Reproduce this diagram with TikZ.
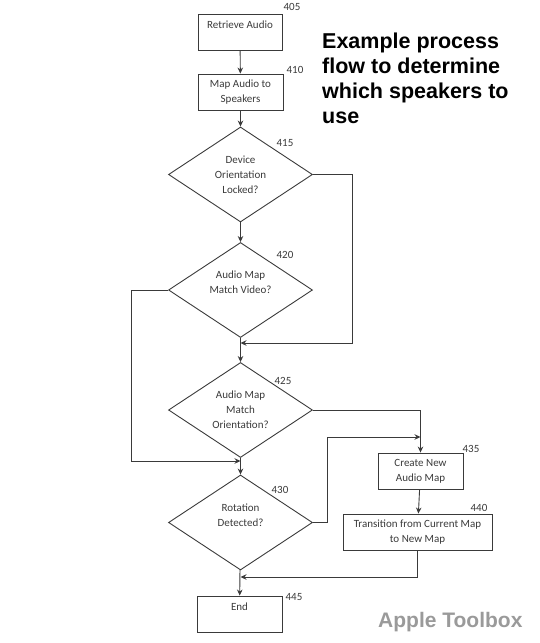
\documentclass[tikz,border=0pt]{standalone}
\usepackage{fontspec}
\setmainfont{Carlito}
\newfontfamily\headfont{Liberation Sans}
\usetikzlibrary{arrows.meta,shapes.geometric}

\definecolor{inkgray}{HTML}{3A3A3A}
\definecolor{markgray}{HTML}{9A9A9A}

\tikzset{
  stepbox/.style={draw=inkgray, line width=0.9pt, inner sep=2pt,
    minimum height=36pt, align=center, text=inkgray,
    font=\fontsize{11}{15}\selectfont},
  decision/.style={diamond, draw=inkgray, line width=0.9pt, inner sep=0pt,
    aspect=1.5, minimum width=144pt, minimum height=95pt, align=center,
    text=inkgray, font=\fontsize{11}{15}\selectfont},
  refnum/.style={text=inkgray, inner sep=0pt, font=\fontsize{11}{12}\selectfont},
  flow/.style={draw=inkgray, line width=0.9pt, -{Stealth[length=6pt,width=5.5pt]}},
  wire/.style={draw=inkgray, line width=0.9pt}
}

\begin{document}
\begin{tikzpicture}[x=1pt,y=-1pt]
  \useasboundingbox (0,0) rectangle (540,643);

  % steps and decisions
  \node[stepbox, minimum width=84pt]  (retrieve) at (240,32)    {Retrieve Audio\\\mbox{}};
  \node[stepbox, minimum width=85pt]  (mapaudio) at (240.5,92)  {Map Audio to\\Speakers};
  \node[decision] (locked)   at (240.5,174.5) {Device\\Orientation\\Locked?};
  \node[decision] (matchvid) at (240.5,290)   {Audio Map\\Match Video?\\\mbox{}};
  \node[decision] (matchori) at (240.5,410)   {Audio Map\\Match\\Orientation?};
  \node[decision] (rotation) at (240.5,522.5) {Rotation\\Detected?\\\mbox{}};
  \node[stepbox, minimum width=85pt]  (newmap)   at (420.5,471) {Create New\\Audio Map};
  \node[stepbox, minimum width=149pt] (transit)  at (417.5,532) {Transition from Current Map\\to New Map};
  \node[stepbox, minimum width=85pt]  (finish)   at (239.5,614) {End\\\mbox{}};

  % reference numbers
  \node[refnum] (n405) at (292,7)   {405};
  \node[refnum] (n410) at (295,70)  {410};
  \node[refnum] (n415) at (285,143) {415};
  \node[refnum] (n420) at (285,255) {420};
  \node[refnum] (n425) at (283,381) {425};
  \node[refnum] (n430) at (280,490) {430};
  \node[refnum] (n435) at (471,449) {435};
  \node[refnum] (n440) at (479,508) {440};
  \node[refnum] (n445) at (294,597) {445};

  % joins
  \coordinate (joinA) at (240.5,343);
  \coordinate (joinB) at (240.5,461);
  \coordinate (joinC) at (420.5,437);
  \coordinate (joinD) at (240.5,577);

  % connectors
  \draw[flow] (retrieve) -- (mapaudio);
  \draw[flow] (mapaudio) -- (locked);
  \draw[flow] (locked) -- (matchvid);
  \draw[flow] (matchvid) -- (matchori);
  \draw[flow] (matchori) -- (rotation);
  \draw[flow] (rotation) -- (finish);
  \draw[flow] (newmap) -- (transit);
  \draw[flow] (locked.east) -- ++(39,0) |- (joinA);
  \draw[flow] (matchvid.west) -- ++(-37,0) |- (joinB);
  \draw[flow] (matchori.east) -| (newmap.north);
  \draw[flow] (rotation.east) -- ++(14,0) |- (joinC);
  \draw[flow] (transit.south) |- (joinD);

  % captions
  \node[anchor=north west, inner sep=0pt, align=left,
        font=\headfont\bfseries\fontsize{21.5}{25}\selectfont] (title) at (322,33)
    {Example process\\flow to determine\\which speakers to\\use};
  \node[anchor=base west, inner sep=0pt, text=markgray,
        font=\headfont\bfseries\fontsize{21}{24}\selectfont] (brand) at (378,627)
    {Apple Toolbox};
\end{tikzpicture}
\end{document}
